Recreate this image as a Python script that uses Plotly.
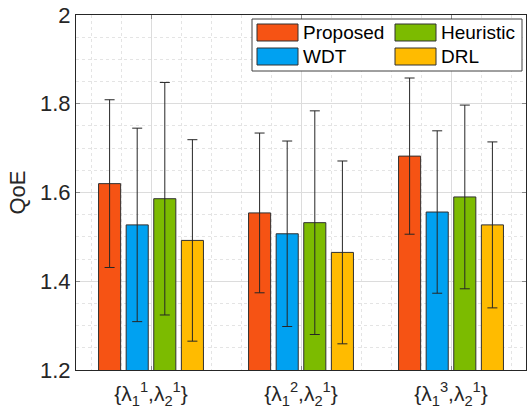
import plotly.graph_objects as go

categories = [1, 2, 3]
tick_labels = ["{λ<sub>1</sub><sup>1</sup>,λ<sub>2</sub><sup>1</sup>}",
               "{λ<sub>1</sub><sup>2</sup>,λ<sub>2</sub><sup>1</sup>}",
               "{λ<sub>1</sub><sup>3</sup>,λ<sub>2</sub><sup>1</sup>}"]
series_names = ["Proposed", "WDT", "Heuristic", "DRL"]
proposed = [1.620, 1.554, 1.682]
wdt = [1.527, 1.507, 1.556]
heuristic = [1.586, 1.532, 1.590]
drl = [1.492, 1.465, 1.527]
proposed_err = [0.189, 0.180, 0.176]
wdt_err = [0.218, 0.209, 0.183]
heuristic_err = [0.262, 0.252, 0.207]
drl_err = [0.227, 0.206, 0.187]
colors = ["#F65314", "#00A1F1", "#7CBB00", "#FFBB00"]
y_tick_vals = [1.2, 1.4, 1.6, 1.8, 2.0]
y_tick_text = ["1.2", "1.4", "1.6", "1.8", "2"]

values = [proposed, wdt, heuristic, drl]
errors = [proposed_err, wdt_err, heuristic_err, drl_err]

axis_col = "#262626"
font = "Liberation Sans, Arial, sans-serif"

fig = go.Figure()
for name, v, e, c in zip(series_names, values, errors, colors):
    fig.add_trace(go.Bar(
        x=categories, y=v, name=name, showlegend=False,
        marker=dict(color=c, line=dict(color="#303030", width=1)),
        error_y=dict(type="data", array=e, visible=True, color="#262626",
                     thickness=1, width=5),
    ))

fig.update_layout(
    width=527, height=419,
    margin=dict(l=76, r=1, t=15, b=49),
    paper_bgcolor="white", plot_bgcolor="white",
    barmode="group", bargap=0.264, bargroupgap=0.2,
    font=dict(family=font, color=axis_col),
)
fig.update_xaxes(
    range=[0.5, 3.5], tickvals=categories, ticktext=tick_labels,
    tickfont=dict(size=21, family=font, color=axis_col),
    ticklabelstandoff=5,
    showline=True, linecolor=axis_col, linewidth=1, mirror="ticks",
    ticks="inside", ticklen=4, tickcolor="#8a8a8a",
    showgrid=True, gridcolor="#dcdcdc", gridwidth=1,
    minor=dict(dtick=0.2, tick0=0, showgrid=True, gridcolor="#e4e4e4",
               griddash="dot", gridwidth=1, ticks=""),
    zeroline=False,
)
fig.update_yaxes(
    range=[1.2, 2.0], tickvals=y_tick_vals, ticktext=y_tick_text,
    tickfont=dict(size=22, family=font, color=axis_col),
    showline=True, linecolor=axis_col, linewidth=1, mirror="ticks",
    ticks="inside", ticklen=4, tickcolor="#8a8a8a",
    showgrid=True, gridcolor="#dcdcdc", gridwidth=1,
    minor=dict(dtick=0.05, tick0=1.2, showgrid=True, gridcolor="#e4e4e4",
               griddash="dot", gridwidth=1, ticks=""),
    title=dict(text="QoE", font=dict(size=22, family=font, color=axis_col), standoff=8),
    zeroline=False,
)

# Custom two-column legend in paper coordinates
W, H = 450.0, 355.0
def px_x(p):
    return (p - 76) / W
def px_y(p):
    return 1 - (p - 15) / H

fig.add_shape(type="rect", xref="paper", yref="paper",
              x0=px_x(252), x1=px_x(522), y0=px_y(71), y1=px_y(19),
              fillcolor="white", line=dict(color="#404040", width=1), layer="above")
legend_pos = {
    "Proposed": (257, 24),
    "WDT": (257, 48),
    "Heuristic": (395, 24),
    "DRL": (395, 48),
}
for name, c in zip(series_names, colors):
    lx, ly = legend_pos[name]
    fig.add_shape(type="rect", xref="paper", yref="paper",
                  x0=px_x(lx), x1=px_x(lx + 41), y0=px_y(ly + 17), y1=px_y(ly),
                  fillcolor=c, line=dict(color="#303030", width=1), layer="above")
    fig.add_annotation(xref="paper", yref="paper", x=px_x(lx + 44), y=px_y(ly + 8.5),
                       text=name, showarrow=False, xanchor="left", yanchor="middle",
                       font=dict(size=19, family=font, color="#000000"))

fig.write_html("out.html")
